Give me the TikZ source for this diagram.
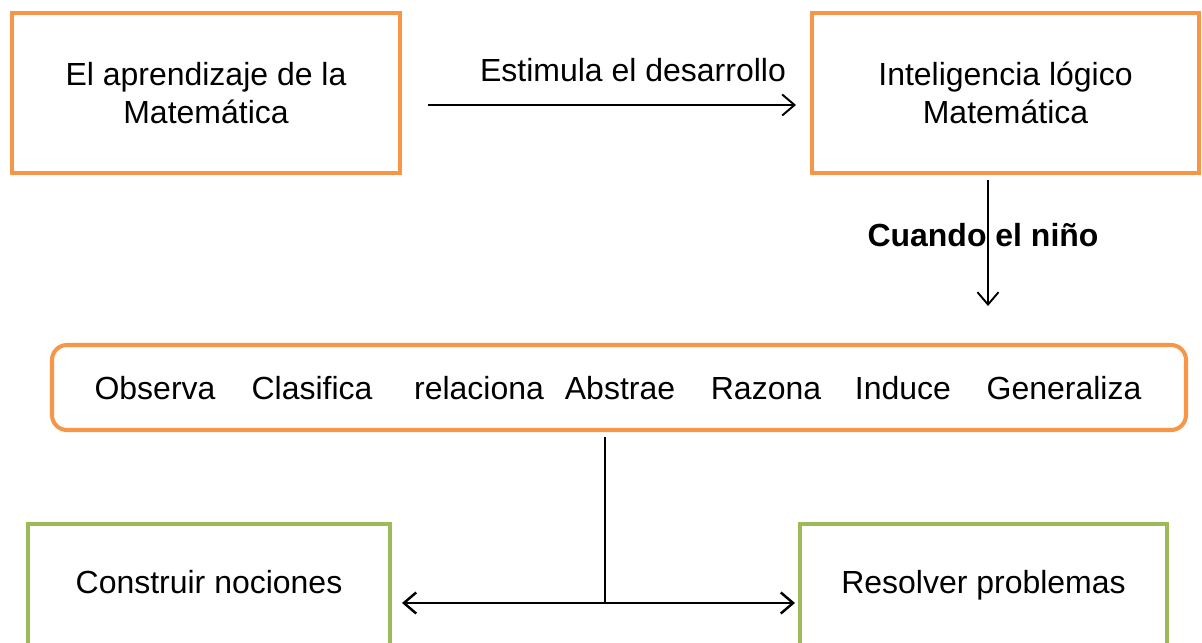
\documentclass[tikz,border=0pt]{standalone}
\usepackage{fontspec}
\setmainfont{Liberation Sans}
\usetikzlibrary{arrows.meta}
\definecolor{boxorange}{HTML}{F79646}
\definecolor{boxgreen}{HTML}{9BBB59}
\begin{document}
\begin{tikzpicture}[
    font=\fontsize{18.2}{21.6}\selectfont,
    obox/.style={draw=boxorange, line width=2.3pt, rectangle, align=center},
    gbox/.style={draw=boxgreen, line width=2.3pt, rectangle, align=center, text height=0.8em, text depth=0.2em},
    arr/.style={line width=1.1pt, -{Straight Barb[length=7pt,width=12pt]}},
    darr/.style={line width=1.4pt, {Straight Barb[length=7pt,width=12pt]}-{Straight Barb[length=7pt,width=12pt]}}
]
    \useasboundingbox (0,0) rectangle (24.04,-12.84);

    % Top boxes
    \node[obox, minimum width=7.76cm, minimum height=3.2cm] (learn) at (4.12,-1.86) {El aprendizaje de la\\Matemática};
    \node[obox, minimum width=7.74cm, minimum height=3.2cm] (intel) at (20.11,-1.86) {Inteligencia lógico\\Matemática};

    % Row of actions
    \node[obox, rounded corners=0.3cm, minimum width=22.68cm, minimum height=1.7cm] (acts) at (12.38,-7.75) {};
    \foreach \x/\word in {3.10/Observa, 6.24/Clasifica, 9.58/relaciona, 12.40/Abstrae, 15.32/Razona, 18.06/Induce, 21.28/Generaliza}
        \node[anchor=base] at (\x,-7.98) {\word};

    % Bottom boxes
    \node[gbox, minimum width=7.24cm, minimum height=2.56cm] (build) at (4.18,-11.76) {Construir nociones};
    \node[gbox, minimum width=7.34cm, minimum height=2.56cm] (solve) at (19.67,-11.76) {Resolver problemas};

    % Arrows
    \draw[arr, shorten <=0.52cm, shorten >=0.28cm] ([yshift=-0.24cm]learn.east) -- ([yshift=-0.24cm]intel.west);
    \node (stim) at (12.66,-1.40) {Estimula el desarrollo};

    \draw[arr, shorten <=0.1cm, shorten >=0.74cm] ([xshift=-0.35cm]intel.south) -- ([xshift=-0.35cm]intel.south |- acts.north);
    \node[font=\fontsize{18.2}{21.6}\selectfont\bfseries] (when) at (19.66,-4.70) {Cuando el niño};

    \draw[darr, shorten <=0.2cm, shorten >=0.06cm] ([yshift=-0.30cm]build.east) -- ([yshift=-0.30cm]solve.west);
    \coordinate (joint) at ([yshift=-0.30cm]build.east);
    \coordinate (split) at ([xshift=-0.28cm]acts.south |- joint);
    \draw[line width=0.9pt, shorten <=0.1cm] ([xshift=-0.28cm]acts.south) -- (split);
\end{tikzpicture}
\end{document}
